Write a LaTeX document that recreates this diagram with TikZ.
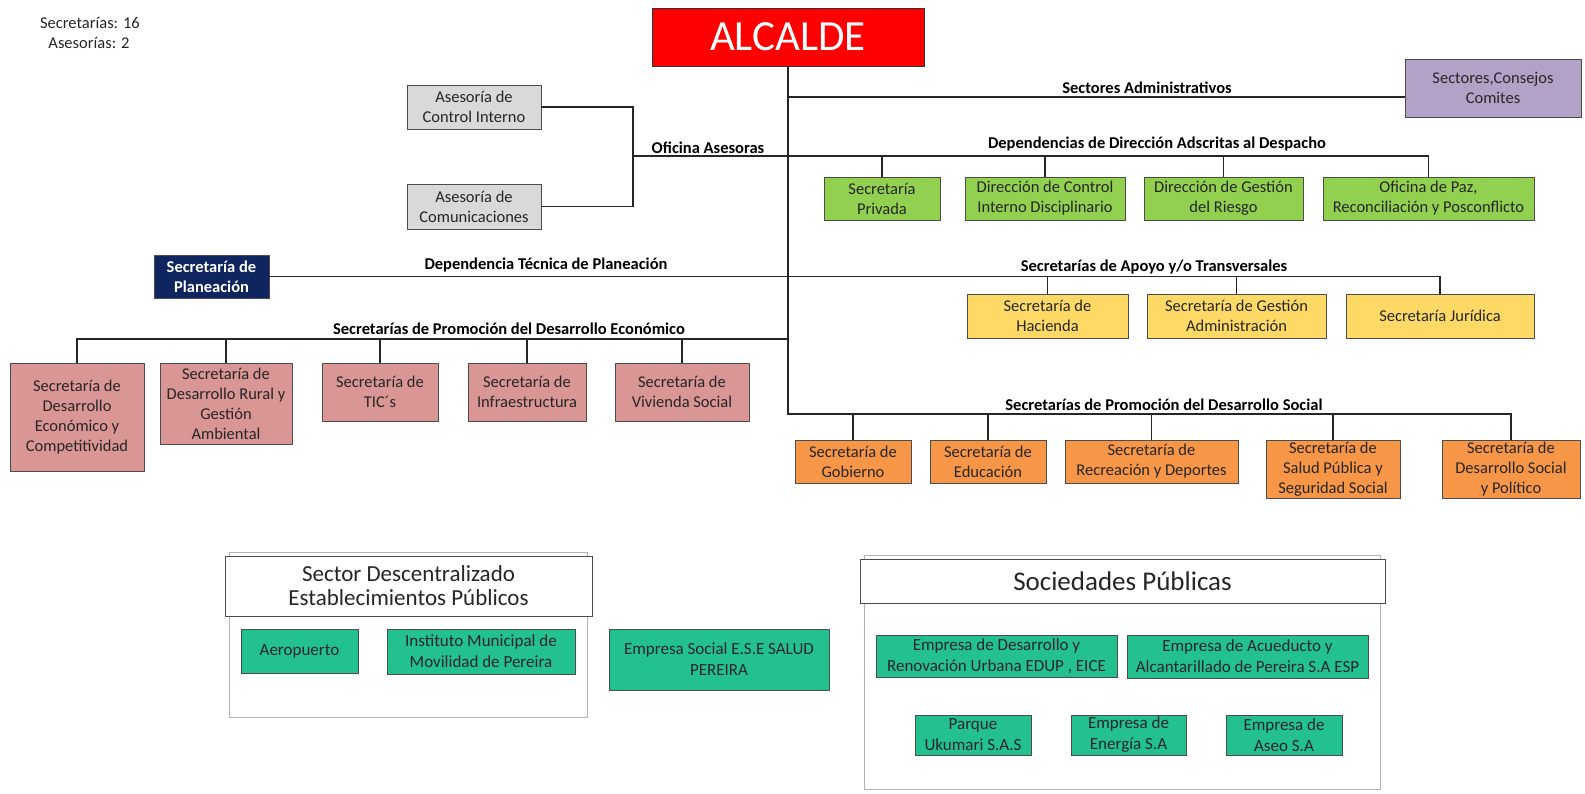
\documentclass[tikz,border=0pt]{standalone}
\usepackage{fontspec}
\setmainfont{Carlito}
\definecolor{rojo}{HTML}{FF0000}
\definecolor{gris}{HTML}{D9D9D9}
\definecolor{azul}{HTML}{0F2560}
\definecolor{lila}{HTML}{B3A2C7}
\definecolor{verde}{HTML}{92D050}
\definecolor{amarillo}{HTML}{FFD966}
\definecolor{rosa}{HTML}{D99694}
\definecolor{naranja}{HTML}{F79646}
\definecolor{turquesa}{HTML}{22C18F}
\begin{document}
\begin{tikzpicture}[x=1pt, y=-1pt,
    caja/.style={draw=black!70, line width=0.9pt, align=center, inner sep=0.5pt,
      text=black!85, font=\fontsize{16.5}{20}\selectfont},
    empresa/.style={caja, fill=turquesa, font=\fontsize{17}{21}\selectfont},
    etiqueta/.style={inner sep=0pt, text=black, font=\fontsize{16.5}{18}\selectfont\bfseries},
    linea/.style={line width=1.8pt, black!85},
    marco/.style={draw=black!30, line width=1pt},
    cabecera/.style={draw=black!70, fill=white, line width=1pt, align=center,
      text=black!85, inner sep=1pt}]
  \useasboundingbox (0,0) rectangle (1585,793);

  % Totales
  \node[inner sep=0pt, text=black!85, font=\fontsize{16.5}{18}\selectfont] (nsec) at (90,23) {Secretarías: 16};
  \node[inner sep=0pt, text=black!85, font=\fontsize{16.5}{18}\selectfont] (nase) at (89,43) {Asesorías: 2};

  % Alcalde
  \node[caja, fill=rojo, draw=black!80, text=white, font=\fontsize{43}{46}\selectfont,
    minimum width=272, minimum height=58] (alc) at (788,37) {ALCALDE};

  % Asesorias
  \node[caja, fill=gris, minimum width=134, minimum height=44] (ci) at (474,107) {Asesoría de\\Control Interno};
  \node[caja, fill=gris, minimum width=134, minimum height=45] (com) at (474,206.5) {Asesoría de\\Comunicaciones};
  \node[caja, fill=azul, text=white, font=\fontsize{16.5}{20}\selectfont\bfseries,
    minimum width=115, minimum height=43] (plan) at (211.5,276.5) {Secretaría de\\Planeación};
  \node[caja, fill=lila, minimum width=176, minimum height=58] (sect) at (1493,88) {Sectores,Consejos\\Comites};

  % Despacho
  \node[caja, fill=verde, minimum width=116, minimum height=43] (priv) at (882,198.5) {Secretaría\\Privada};
  \node[caja, fill=verde, minimum width=160, minimum height=43] (cdis) at (1045,198.5) {Dirección de Control\\Interno Disciplinario};
  \node[caja, fill=verde, minimum width=159, minimum height=43] (grie) at (1223.5,198.5) {Dirección de Gestión\\del Riesgo};
  \node[caja, fill=verde, minimum width=211, minimum height=43] (paz) at (1428.5,198.5) {Oficina de Paz,\\Reconciliación y Posconflicto};

  % Apoyo
  \node[caja, fill=amarillo, minimum width=161, minimum height=44] (hac) at (1047.5,316) {Secretaría de\\Hacienda};
  \node[caja, fill=amarillo, minimum width=179, minimum height=44] (gadm) at (1236.5,316) {Secretaría de Gestión\\Administración};
  \node[caja, fill=amarillo, minimum width=188, minimum height=44] (jur) at (1440,316) {Secretaría Jurídica};

  % Desarrollo economico
  \node[caja, fill=rosa, minimum width=134, minimum height=108] (decon) at (77,417) {Secretaría de\\Desarrollo\\Económico y\\Competitividad};
  \node[caja, fill=rosa, minimum width=132, minimum height=81] (rur) at (226,403.5) {Secretaría de\\Desarrollo Rural y\\Gestión\\Ambiental};
  \node[caja, fill=rosa, minimum width=116, minimum height=58] (tic) at (380,392) {Secretaría de\\TIC´s};
  \node[caja, fill=rosa, minimum width=118, minimum height=58] (inf) at (527,392) {Secretaría de\\Infraestructura};
  \node[caja, fill=rosa, minimum width=134, minimum height=58] (viv) at (682,392) {Secretaría de\\Vivienda Social};

  % Desarrollo social
  \node[caja, fill=naranja, minimum width=116, minimum height=43] (gob) at (853,461.5) {Secretaría de\\Gobierno};
  \node[caja, fill=naranja, minimum width=116, minimum height=43] (edu) at (988,461.5) {Secretaría de\\Educación};
  \node[caja, fill=naranja, minimum width=173, minimum height=43] (rec) at (1151.5,461.5) {Secretaría de\\Recreación y Deportes};
  \node[caja, fill=naranja, minimum width=134, minimum height=58] (sal) at (1333,469) {Secretaría de\\Salud Pública y\\Seguridad Social};
  \node[caja, fill=naranja, minimum width=138, minimum height=58] (dsoc) at (1511,469) {Secretaría de\\Desarrollo Social\\y Político};

  % Etiquetas
  \node[etiqueta] (lsec) at (1147,88) {Sectores Administrativos};
  \node[etiqueta] (lase) at (708,148) {Oficina Asesoras};
  \node[etiqueta] (ldes) at (1157,144) {Dependencias de Dirección Adscritas al Despacho};
  \node[etiqueta] (lpla) at (546,265) {Dependencia Técnica de Planeación};
  \node[etiqueta] (lapo) at (1154,267) {Secretarías de Apoyo y/o Transversales};
  \node[etiqueta] (leco) at (509,329) {Secretarías de Promoción del Desarrollo Económico};
  \node[etiqueta] (lsoc) at (1164,405) {Secretarías de Promoción del Desarrollo Social};

  % Conexiones
  \coordinate (jsec) at (788,97);
  \coordinate (jase) at (633,156);
  \coordinate (jeco) at (788,339);
  \coordinate (jsoc) at (788,414);
  \draw[linea] (alc.south) -- (jsoc) -- (dsoc.north |- jsoc) -- (dsoc.north);
  \draw[linea] (jsec) -- (jsec -| sect.west);
  \draw[linea] (ci.east) -| (jase) |- (com.east);
  \draw[linea] (jase) -- (paz.north |- jase) -- (paz.north);
  \draw[linea] (plan.east) -- (jur.north |- plan.east) -- (jur.north);
  \draw[linea] (jeco) -- (decon.north |- jeco) -- (decon.north);
  \foreach \n in {priv,cdis,grie} \draw[linea] (\n.north |- jase) -- (\n.north);
  \foreach \n in {hac,gadm} \draw[linea] (\n.north |- plan.east) -- (\n.north);
  \foreach \n in {rur,tic,inf,viv} \draw[linea] (\n.north |- jeco) -- (\n.north);
  \foreach \n in {gob,edu,rec,sal} \draw[linea] (\n.north |- jsoc) -- (\n.north);

  % Sector descentralizado
  \node[marco, minimum width=358, minimum height=165] (mdes) at (408,634.5) {};
  \node[cabecera, font=\fontsize{23}{24}\selectfont, minimum width=367, minimum height=60] (cdes) at (408.5,586) {Sector Descentralizado\\Establecimientos Públicos};
  \node[empresa, minimum width=117, minimum height=44] (aer) at (299.5,651) {Aeropuerto};
  \node[empresa, minimum width=188, minimum height=45] (imm) at (481,651.5) {Instituto Municipal de\\Movilidad de Pereira};
  \node[empresa, minimum width=220, minimum height=61] (ese) at (719,659.5) {Empresa Social E.S.E SALUD\\PEREIRA};

  % Sociedades publicas
  \node[marco, minimum width=516, minimum height=234] (msoc) at (1122,672) {};
  \node[cabecera, font=\fontsize{27}{30}\selectfont, minimum width=525, minimum height=44] (csoc) at (1122.5,581) {Sociedades Públicas};
  \node[empresa, minimum width=241, minimum height=42] (edup) at (996.5,656) {Empresa de Desarrollo y\\Renovación Urbana EDUP , EICE};
  \node[empresa, minimum width=241, minimum height=43] (acu) at (1247.5,656.5) {Empresa de Acueducto y\\Alcantarillado de Pereira S.A ESP};
  \node[empresa, minimum width=116, minimum height=40] (uku) at (973,735) {Parque\\Ukumari S.A.S};
  \node[empresa, minimum width=115, minimum height=40] (ene) at (1128.5,735) {Empresa de\\Energía S.A};
  \node[empresa, minimum width=116, minimum height=40] (ase) at (1284,735) {Empresa de\\Aseo S.A};
\end{tikzpicture}
\end{document}
